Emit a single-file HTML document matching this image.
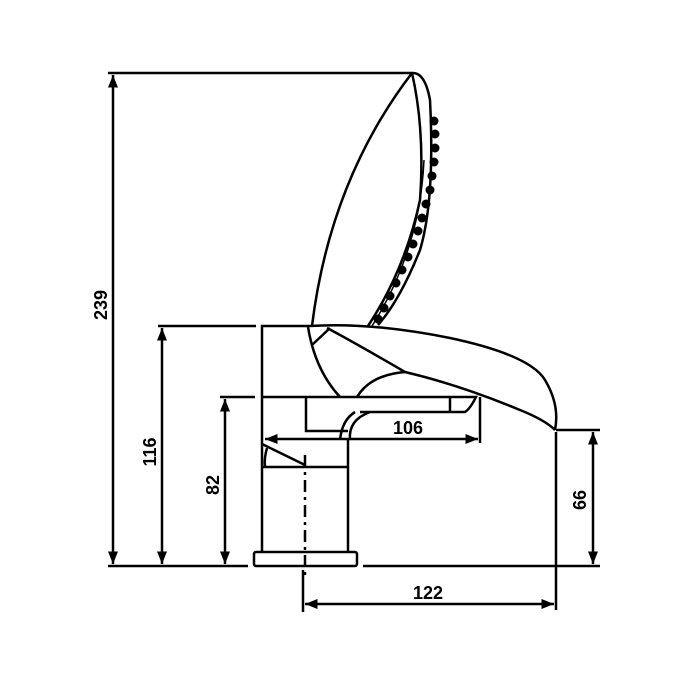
<!DOCTYPE html>
<html><head><style>body{margin:0;background:#fff}svg{display:block}</style></head><body>
<svg width="700" height="700" viewBox="0 0 700 700" xmlns="http://www.w3.org/2000/svg">
<defs><marker id="a" viewBox="0 0 10 10" refX="10" refY="5" markerWidth="5" markerHeight="5" orient="auto-start-reverse"><path d="M0,1 L10,5 L0,9 z" fill="#000"/></marker></defs>
<g stroke="#000" stroke-width="2.5" fill="none">
<line x1="108" y1="73" x2="412" y2="73"/>
<line x1="113" y1="75" x2="113" y2="564" marker-start="url(#a)" marker-end="url(#a)"/>
<line x1="158" y1="326" x2="256" y2="326"/>
<line x1="162" y1="328" x2="162" y2="564" marker-start="url(#a)" marker-end="url(#a)"/>
<line x1="220" y1="397" x2="255" y2="397"/>
<line x1="225" y1="399" x2="225" y2="564" marker-start="url(#a)" marker-end="url(#a)"/>
<line x1="108" y1="566" x2="248" y2="566"/>
<line x1="363" y1="566" x2="600" y2="566"/>
<line x1="556" y1="430" x2="600" y2="430"/>
<line x1="593" y1="432" x2="593" y2="564" marker-start="url(#a)" marker-end="url(#a)"/>
<line x1="556" y1="432" x2="556" y2="610"/>
<line x1="303" y1="570" x2="303" y2="612"/>
<line x1="305" y1="604" x2="554" y2="604" marker-start="url(#a)" marker-end="url(#a)"/>
<line x1="480" y1="397" x2="480" y2="443"/>
<line x1="265" y1="439" x2="478" y2="439" marker-start="url(#a)" marker-end="url(#a)"/>
<line x1="305" y1="455" x2="305" y2="580" stroke-dasharray="12,5,3,5"/>
<rect x="254" y="552" width="103" height="14" rx="2"/>
<path d="M262,552 L262,326 L310,326"/>
<line x1="348" y1="440" x2="348" y2="552"/>
<line x1="262" y1="467" x2="348" y2="467"/>
<path d="M262,444 L305,465"/>
<path d="M267,448 Q264,458 265,467"/>
<path d="M306,397 L306,431 L348,431"/>
<path d="M262,397 L476,397 Q470,409 465,412 L360,412"/>
<path d="M350,440 Q348,420 370,412"/>
<path d="M340,440 Q342,420 355,412"/>
<line x1="450" y1="398" x2="450" y2="412"/>
<path d="M310,326 Q370,322 450,338 Q530,355 545,380 Q560,405 555,430"/>
<path d="M327,328 Q350,340 405,372 Q460,385 520,410 Q545,420 555,430"/>
<path d="M357,397 Q370,375 405,372"/>
<path d="M308,327 Q315,370 340,397"/>
<path d="M312,345 L330,328"/>
<path d="M312,326 Q330,180 412,73"/>
<path d="M412,73 Q425,72 430,100 Q435,200 420,250 Q400,300 378,325"/>
<path d="M412,73 Q425,130 420,200 Q405,270 368,326"/>
<path d="M424,160 Q420,250 372,326" stroke-width="1.5"/>
</g>
<g fill="#000">
<circle cx="434" cy="121" r="4.5"/><circle cx="435" cy="134" r="4.5"/><circle cx="435" cy="148" r="4.5"/><circle cx="434" cy="162" r="4.5"/><circle cx="432" cy="176" r="4.5"/><circle cx="430" cy="190" r="4.5"/><circle cx="426" cy="204" r="4.5"/><circle cx="422" cy="218" r="4.5"/><circle cx="418" cy="231" r="4.5"/><circle cx="413" cy="244" r="4.5"/><circle cx="408" cy="257" r="4.5"/><circle cx="402" cy="270" r="4.5"/><circle cx="396" cy="283" r="4.5"/><circle cx="390" cy="296" r="4.5"/><circle cx="384" cy="308" r="4.5"/><circle cx="378" cy="319" r="4.5"/>
</g>
<g font-family="Liberation Sans, sans-serif" font-weight="bold" font-size="18" fill="#000" text-anchor="middle">
<text transform="translate(107,305) rotate(-90)">239</text>
<text transform="translate(156,452) rotate(-90)">116</text>
<text transform="translate(219,485) rotate(-90)">82</text>
<text transform="translate(586,500) rotate(-90)">66</text>
<text x="428" y="599">122</text>
<text x="408" y="434">106</text>
</g>
</svg>
</body></html>
